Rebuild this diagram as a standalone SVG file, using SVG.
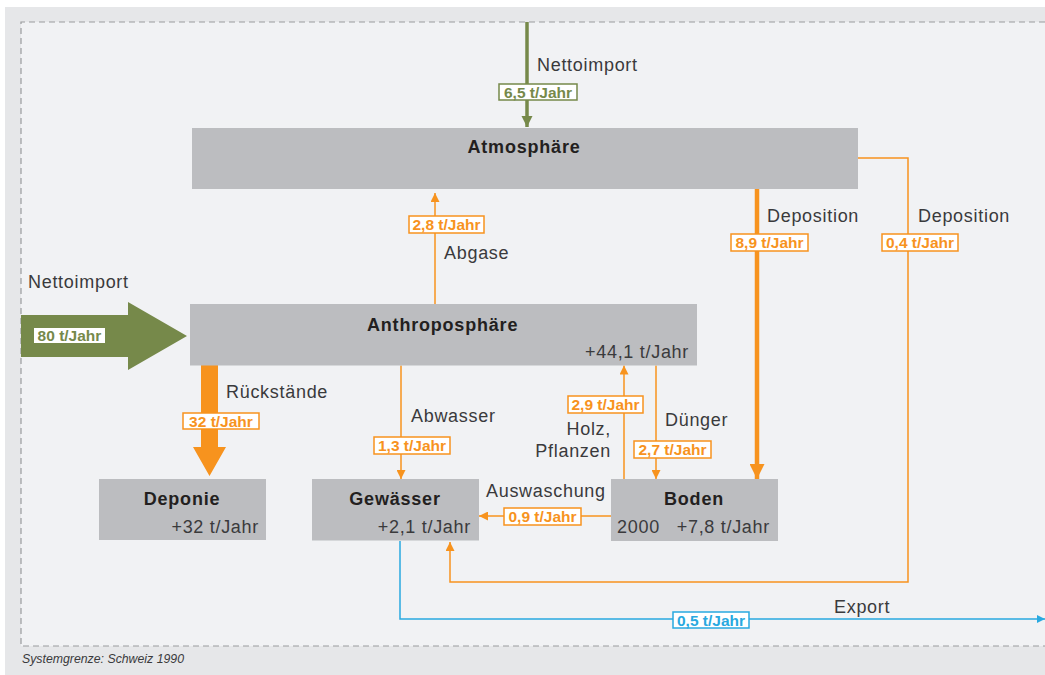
<svg xmlns="http://www.w3.org/2000/svg" width="1045" height="675" viewBox="0 0 1045 675">
<defs>
<style>
.box{fill:#bcbdc0}
.title{font-family:"Liberation Sans",Arial,sans-serif;font-weight:bold;font-size:18px;letter-spacing:0.8px;fill:#231f20}
.lbl{font-family:"Liberation Sans",Arial,sans-serif;font-size:18px;letter-spacing:0.7px;fill:#3a3a3c}
.val{font-family:"Liberation Sans",Arial,sans-serif;font-weight:bold;font-size:15.5px;text-anchor:middle}
.vbox{fill:#ffffff;stroke-width:1.5}
.or{stroke:#f7931e}
.orf{fill:#f7931e}
.gr{stroke:#76894a}
.grf{fill:#76894a}
.bl{stroke:#29a9e0}
.blf{fill:#29a9e0}
.thin{fill:none;stroke-width:1.5}
</style>
<marker id="aO" viewBox="0 0 10 10" refX="10" refY="5" markerUnits="userSpaceOnUse" markerWidth="9" markerHeight="9" orient="auto"><path d="M0,0L10,5L0,10z" fill="#f7931e"/></marker>
<marker id="aOB" viewBox="0 0 10 10" refX="10" refY="5" markerUnits="userSpaceOnUse" markerWidth="15" markerHeight="15" orient="auto"><path d="M0,0L10,5L0,10z" fill="#f7931e"/></marker>
<marker id="aG" viewBox="0 0 10 10" refX="10" refY="5" markerUnits="userSpaceOnUse" markerWidth="11" markerHeight="13" orient="auto"><path d="M0,0L10,5L0,10z" fill="#76894a"/></marker>
<marker id="aB" viewBox="0 0 10 10" refX="10" refY="5" markerUnits="userSpaceOnUse" markerWidth="8" markerHeight="8" orient="auto"><path d="M0,0L10,5L0,10z" fill="#29a9e0"/></marker>
</defs>
<rect x="5" y="7" width="1040" height="668" fill="#e6e7e9"/>
<rect x="21" y="22" width="1024" height="624" fill="#f1f2f4"/>
<path d="M1045,22H21V646H1045" fill="none" stroke="#9a9b9d" stroke-width="1.2" stroke-dasharray="6,4"/>
<text x="22" y="663" font-family="Liberation Sans, Arial, sans-serif" font-style="italic" font-size="12.3" fill="#3a3a3c">Systemgrenze: Schweiz 1990</text>

<g id="connectors">
<line x1="527" y1="22" x2="527" y2="127" class="gr" stroke-width="3.5" marker-end="url(#aG)"/>
<polygon points="21,315 128,315 128,302 187,336 128,370 128,357 21,357" class="grf"/>
<polygon points="201,365 218,365 218,447 226,447 209.5,476 193,447 201,447" class="orf"/>
<line x1="435" y1="304" x2="435" y2="193" class="or thin" marker-end="url(#aO)"/>
<line x1="757" y1="189" x2="757" y2="479" class="or" stroke-width="4.5" marker-end="url(#aOB)"/>
<polyline points="858,158 908,158 908,582 450,582 450,542" class="or thin" marker-end="url(#aO)"/>
<line x1="401" y1="365.5" x2="401" y2="479" class="or thin" marker-end="url(#aO)"/>
<line x1="624" y1="479" x2="624" y2="365.5" class="or thin" marker-end="url(#aO)"/>
<line x1="656" y1="365.5" x2="656" y2="479" class="or thin" marker-end="url(#aO)"/>
<line x1="611" y1="516" x2="479" y2="516" class="or thin" marker-end="url(#aO)"/>
<polyline points="400,541 400,619 1045,619" class="bl thin" marker-end="url(#aB)"/>

<text x="537" y="71" class="lbl">Nettoimport</text>
<rect x="499" y="84" width="78" height="16" class="vbox gr"/>
<text x="538" y="97.5" class="val grf">6,5 t/Jahr</text>
<text x="28" y="288" class="lbl">Nettoimport</text>
<rect x="34" y="328" width="71" height="15" fill="#ffffff"/>
<text x="69.5" y="341" class="val grf">80 t/Jahr</text>
<text x="226" y="398" class="lbl">Rückstände</text>
<rect x="183" y="413" width="76" height="16" class="vbox or"/>
<text x="221" y="426.5" class="val orf">32 t/Jahr</text>
<text x="444" y="259" class="lbl">Abgase</text>
<rect x="409" y="216" width="75" height="17" class="vbox or"/>
<text x="446.5" y="230" class="val orf">2,8 t/Jahr</text>
<text x="767" y="222" class="lbl">Deposition</text>
<rect x="731" y="234" width="77" height="17" class="vbox or"/>
<text x="769.5" y="248" class="val orf">8,9 t/Jahr</text>
<text x="918" y="222" class="lbl">Deposition</text>
<rect x="882" y="234" width="76" height="17" class="vbox or"/>
<text x="920" y="248" class="val orf">0,4 t/Jahr</text>
<text x="411" y="422" class="lbl">Abwasser</text>
<rect x="374" y="437" width="76" height="17" class="vbox or"/>
<text x="412" y="451" class="val orf">1,3 t/Jahr</text>
<text x="611" y="435" class="lbl" text-anchor="end">Holz,</text>
<text x="611" y="457" class="lbl" text-anchor="end">Pflanzen</text>
<rect x="568" y="396" width="75" height="17" class="vbox or"/>
<text x="605.5" y="410" class="val orf">2,9 t/Jahr</text>
<text x="665" y="426" class="lbl">Dünger</text>
<rect x="634" y="441" width="77" height="17" class="vbox or"/>
<text x="672.5" y="455" class="val orf">2,7 t/Jahr</text>
<text x="486" y="497" class="lbl">Auswaschung</text>
<rect x="504" y="508" width="77" height="17" class="vbox or"/>
<text x="542.5" y="522" class="val orf">0,9 t/Jahr</text>
<text x="834" y="613" class="lbl">Export</text>
<rect x="673" y="612" width="76" height="16" class="vbox bl"/>
<text x="711" y="625.5" class="val blf">0,5 t/Jahr</text>
</g>

<g id="atmosphaere">
<rect x="192" y="128" width="666" height="61" class="box"/>
<text x="524" y="153" class="title" text-anchor="middle">Atmosphäre</text>
</g>
<g id="anthroposphaere">
<rect x="190" y="304" width="507" height="61.5" class="box"/>
<text x="367" y="331" class="title">Anthroposphäre</text>
<text x="689" y="358" class="lbl" text-anchor="end">+44,1 t/Jahr</text>
</g>
<g id="deponie">
<rect x="99" y="479" width="167" height="61" class="box"/>
<text x="182" y="505" class="title" text-anchor="middle">Deponie</text>
<text x="259" y="533" class="lbl" text-anchor="end">+32 t/Jahr</text>
</g>
<g id="gewaesser">
<rect x="312" y="479" width="167" height="61.5" class="box"/>
<text x="395" y="505" class="title" text-anchor="middle">Gewässer</text>
<text x="471" y="533" class="lbl" text-anchor="end">+2,1 t/Jahr</text>
</g>
<g id="boden">
<rect x="611" y="479" width="167" height="62" class="box"/>
<text x="694" y="505" class="title" text-anchor="middle">Boden</text>
<text x="617" y="533" class="lbl">2000</text>
<text x="770" y="533" class="lbl" text-anchor="end">+7,8 t/Jahr</text>
</g>
</svg>
